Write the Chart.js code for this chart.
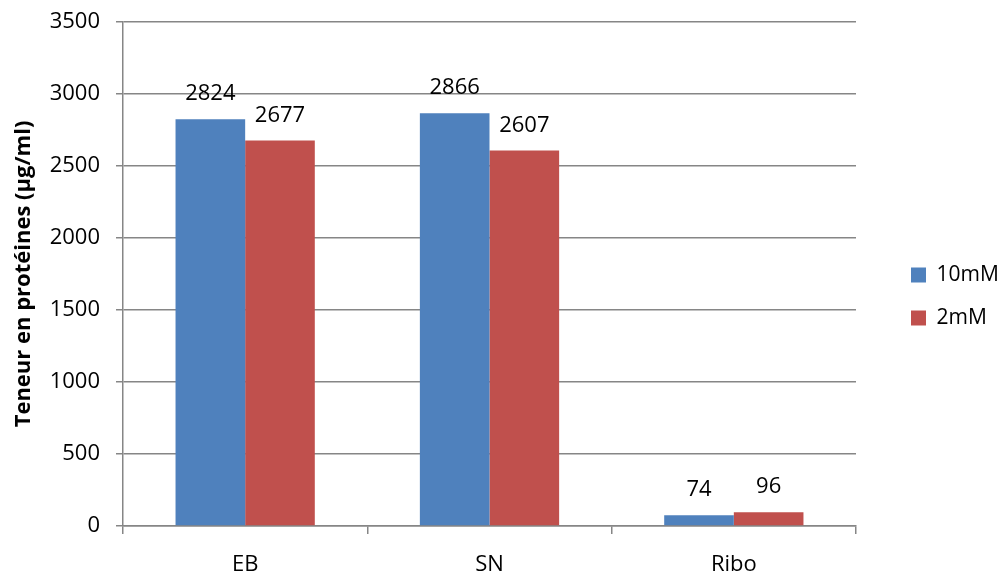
<!DOCTYPE html>
<html>
<head>
<meta charset="utf-8">
<script src="https://cdn.jsdelivr.net/npm/chart.js@4"></script>
<style>
  html, body { margin: 0; padding: 0; background: #fff; }
  #wrap { width: 1006px; height: 571px; }
</style>
</head>
<body>
<div id="wrap"><canvas id="chart" width="1006" height="571"></canvas></div>
<script>
const categories = ['EB', 'SN', 'Ribo'];
const values10mM = [2824, 2866, 74];
const values2mM = [2677, 2607, 96];
const yTicks = [0, 500, 1000, 1500, 2000, 2500, 3000, 3500];

const FONT = '"Open Sans", Lato, sans-serif';
const GRID = '#868686';

// valeurs au-dessus des barres
const barLabels = {
    id: 'barLabels',
    afterDatasetsDraw(chart) {
        const ctx = chart.ctx;
        ctx.save();
        ctx.font = '22px ' + FONT;
        ctx.fillStyle = '#000';
        ctx.textAlign = 'center';
        ctx.textBaseline = 'alphabetic';
        chart.data.datasets.forEach((ds, i) => {
            chart.getDatasetMeta(i).data.forEach((bar, j) => {
                ctx.fillText(String(ds.data[j]), bar.x, bar.y - 19);
            });
        });
        ctx.restore();
    }
};

new Chart(document.getElementById('chart'), {
    type: 'bar',
    data: {
        labels: categories,
        datasets: [
            { label: '10mM', data: values10mM, backgroundColor: '#4F81BD', borderWidth: 0 },
            { label: '2mM', data: values2mM, backgroundColor: '#C0504D', borderWidth: 0 }
        ]
    },
    options: {
        responsive: false,
        animation: false,
        layout: { padding: { top: 22, right: 7, left: 0, bottom: 0 } },
        datasets: { bar: { categoryPercentage: 0.57, barPercentage: 1 } },
        plugins: {
            tooltip: { enabled: false },
            legend: {
                position: 'right',
                maxWidth: 110,
                labels: {
                    font: { family: FONT, size: 21 },
                    color: '#000',
                    boxWidth: 15,
                    boxHeight: 15,
                    padding: 22
                }
            }
        },
        scales: {
            x: {
                grid: { offset: true, drawOnChartArea: false, color: GRID, lineWidth: 1.5, tickLength: 8 },
                border: { color: GRID, width: 1.5 },
                ticks: { font: { family: FONT, size: 22 }, color: '#000', padding: 18 },
                afterFit: (axis) => { axis.height = 45; axis.paddingLeft = 0; axis.paddingRight = 0; }
            },
            y: {
                min: 0,
                max: 3500,
                afterBuildTicks: (axis) => { axis.ticks = yTicks.map(v => ({ value: v })); },
                grid: { color: GRID, lineWidth: 1.5, tickLength: 7 },
                border: { color: GRID, width: 1.5 },
                ticks: { font: { family: FONT, size: 22 }, color: '#000', padding: 16, callback: v => String(v) },
                title: {
                    display: true,
                    text: 'Teneur en protéines (µg/ml)',
                    font: { family: FONT, size: 22, weight: 'bold' },
                    color: '#000',
                    padding: { top: 11, bottom: 0 }
                },
                afterFit: (axis) => { axis.width = 123; axis.paddingTop = 0; axis.paddingBottom = 0; }
            },
            // espace vide entre la zone du graphique et la légende
            gap: {
                position: 'right',
                display: true,
                grid: { display: false },
                border: { display: false },
                ticks: { display: false },
                afterFit: (axis) => { axis.width = 33; }
            }
        }
    },
    plugins: [barLabels]
});
</script>
</body>
</html>
